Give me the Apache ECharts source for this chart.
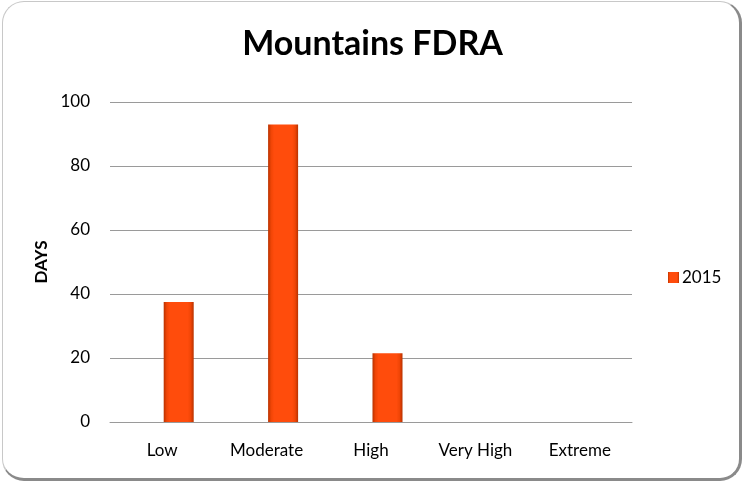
<!DOCTYPE html>
<html>
<head>
<meta charset="utf-8">
<script src="https://cdn.jsdelivr.net/npm/echarts@6/dist/echarts.min.js"></script>
<style>
  html, body { margin: 0; padding: 0; background: #fff; }
  .frame {
    position: absolute; left: 2px; top: 1px; width: 740px; height: 480px;
    border: 1px solid #c8c8c8; border-right: 3px solid #8a8a8a; border-bottom: 3px solid #8a8a8a;
    border-radius: 22px; box-sizing: border-box; background: #fff;
  }
  #chart { position: absolute; left: 0; top: 0; width: 745px; height: 484px; }
</style>
</head>
<body>
<div class="frame"></div>
<div id="chart"></div>
<script>
// chart data
const categories = ['Low', 'Moderate', 'High', 'Very High', 'Extreme']
const seriesName = '2015'
const days2015 = [37.5, 93, 21.5, 0, 0]
const yTicks = { min: 0, max: 100, interval: 20 }

const myChart = echarts.init(document.getElementById('chart'))
const barColor = new echarts.graphic.LinearGradient(0, 0, 1, 0, [
  { offset: 0, color: '#b83200' },
  { offset: 0.1, color: '#f04506' },
  { offset: 0.2, color: '#ff4c0c' },
  { offset: 0.8, color: '#ff4c0c' },
  { offset: 0.9, color: '#f04506' },
  { offset: 1, color: '#b83200' }
])
const option = {
  animation: false,
  textStyle: { fontFamily: 'Lato' },
  title: {
    text: 'Mountains FDRA',
    left: 'center',
    top: 22,
    textStyle: { fontSize: 34, fontWeight: 'bold', color: '#000', fontFamily: 'Lato' }
  },
  legend: {
    data: [seriesName],
    left: 663,
    top: 264,
    itemWidth: 11,
    itemHeight: 11,
    itemGap: 4,
    icon: 'rect',
    textStyle: { fontSize: 17, color: '#000', padding: [0, 0, 0, -2] }
  },
  grid: { left: 110, right: 113, top: 102, bottom: 62 },
  xAxis: {
    type: 'category',
    data: categories,
    axisLine: { lineStyle: { color: '#9a9a9a', width: 1 } },
    axisTick: { show: false },
    axisLabel: { fontSize: 17, color: '#000', margin: 20 }
  },
  yAxis: {
    type: 'value',
    min: yTicks.min,
    max: yTicks.max,
    interval: yTicks.interval,
    name: 'DAYS',
    nameLocation: 'middle',
    nameGap: 60,
    nameTextStyle: { fontSize: 17, fontWeight: 'bold', color: '#000' },
    axisLine: { show: false },
    axisTick: { show: false },
    axisLabel: { fontSize: 17, color: '#000', margin: 20 },
    splitLine: { lineStyle: { color: '#9a9a9a', width: 1 } }
  },
  series: [
    {
      // empty placeholder slot, shifts 2015 bars to the right like the original
      name: '',
      type: 'bar',
      data: [],
      barWidth: 30,
      barGap: '10%'
    },
    {
      name: seriesName,
      type: 'bar',
      data: days2015,
      barWidth: 30,
      barGap: '10%',
      itemStyle: { color: barColor, borderWidth: 0 }
    }
  ]
}
myChart.setOption(option)
</script>
</body>
</html>
